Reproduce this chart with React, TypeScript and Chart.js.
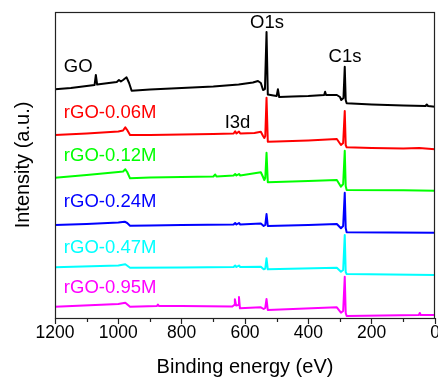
import React, { useEffect, useRef } from 'react';
import { Chart, registerables } from 'chart.js';

Chart.register(...registerables);

const FONT = '"Liberation Sans", Arial, Helvetica, sans-serif';

// x-axis ticks (binding energy, eV)
const tickValues = [0, 100, 200, 300, 400, 500, 600, 700, 800, 900, 1000, 1100, 1200];
const labeledTicks = [0, 200, 400, 600, 800, 1000, 1200];

// GO (black)
const goE = [1200, 1150, 1100, 1075, 1071, 1067, 1030, 1005, 998, 992, 985, 974, 966, 958, 900, 800, 700, 620, 575, 559, 550, 543, 537, 532, 528, 510, 500, 496, 492, 450, 400, 350, 347, 344, 310, 300, 296, 289, 285, 282, 279, 200, 100, 30, 26, 22, 0];
const goI = [228.7, 230, 232, 233, 243, 233.5, 235, 236, 238, 236.5, 238, 240.7, 235, 227.3, 228.5, 230, 231.5, 233.5, 235.5, 237, 235, 228, 229, 286, 223.5, 222.5, 222, 228.7, 221, 221.5, 222, 223, 226.3, 223, 223, 221, 218, 220, 251.3, 218, 214.7, 213.5, 212.5, 212, 213.5, 212, 211.3];

// rGO-0.06M (red)
const r006E = [1200, 1100, 1000, 985, 978, 972, 963, 900, 800, 700, 636, 631, 627, 619, 615, 570, 550, 543, 539, 536, 532, 528, 500, 400, 310, 297, 290, 285, 282, 279, 200, 100, 50, 0];
const r006I = [183, 184.5, 186.5, 187.5, 190.7, 188, 183, 183, 183.5, 184, 184.5, 186.7, 184.5, 186.5, 184.5, 185, 186.3, 182, 180, 182, 220.3, 176.3, 176.5, 177.5, 179, 173, 175, 207, 173, 170.7, 170, 169.5, 170, 168.7];

// rGO-0.12M (green)
const r012E = [1200, 1100, 1000, 985, 978, 972, 963, 900, 800, 700, 694, 690, 636, 631, 627, 619, 615, 550, 543, 539, 536, 532, 528, 400, 310, 297, 290, 285, 282, 279, 100, 0];
const r012I = [140.3, 143, 146, 146.5, 148.7, 146, 139.7, 140.5, 141, 141.5, 143.5, 141.5, 142.5, 144, 142.5, 144, 142.5, 145.7, 141, 138, 140, 165.3, 135.7, 137, 138, 131.3, 134, 167.3, 132, 128, 127.7, 127.3];

// rGO-0.24M (blue)
const r024E = [1200, 1100, 1000, 980, 972, 963, 900, 800, 636, 631, 627, 619, 615, 550, 541, 536, 532, 528, 400, 310, 297, 290, 285, 282, 279, 0];
const r024I = [93, 94, 95.5, 96.3, 95, 92.3, 92.5, 93, 93.5, 95, 93.5, 95, 93.5, 94.5, 92, 93, 104, 92, 93, 94, 89.7, 92, 125.3, 90, 85.7, 85.3];

// rGO-0.47M (cyan)
const r047E = [1200, 1000, 978, 963, 800, 636, 631, 627, 619, 615, 550, 541, 536, 532, 528, 310, 297, 290, 285, 282, 279, 0];
const r047I = [50.7, 52.5, 53.7, 50.3, 50.5, 51, 52.5, 51, 52.5, 51, 51.3, 48.7, 49.5, 59.7, 48.7, 50.3, 46.3, 48, 83, 46, 44, 43];

// rGO-0.95M (magenta)
const r095E = [1200, 1000, 978, 963, 878, 875, 872, 800, 640, 634, 632, 628, 621, 619, 616, 550, 541, 536, 532, 528, 310, 297, 290, 285, 282, 279, 51, 48, 45, 0];
const r095I = [11.3, 14, 15.3, 11.3, 12, 13.5, 12, 12, 11.5, 13, 18.7, 12.5, 13, 21, 9.7, 10.7, 9, 10, 19, 8, 10.7, 5.3, 7, 41.3, 5, 2, 3, 5, 3, 3];

const seriesNames = ['GO', 'rGO-0.06M', 'rGO-0.12M', 'rGO-0.24M', 'rGO-0.47M', 'rGO-0.95M'];
const seriesColors = ['#000000', '#ff0000', '#00ff00', '#0000ff', '#00ffff', '#ff00ff'];
const seriesE = [goE, r006E, r012E, r024E, r047E, r095E];
const seriesI = [goI, r006I, r012I, r024I, r047I, r095I];

// text annotations
const labelTexts = ['GO', 'rGO-0.06M', 'rGO-0.12M', 'rGO-0.24M', 'rGO-0.47M', 'rGO-0.95M', 'O1s', 'C1s', 'I3d'];
const labelE = [1172, 1172, 1172, 1172, 1172, 1172, 530.6, 284, 623.7];
const labelI = [251, 205.5, 162, 116.3, 70, 30, 295, 261.3, 195];
const labelColors = ['#000000', '#ff0000', '#00ff00', '#0000ff', '#00ffff', '#ff00ff', '#000000', '#000000', '#000000'];
const labelAlign = ['left', 'left', 'left', 'left', 'left', 'left', 'center', 'center', 'center'];

const framePlugin = {
  id: 'frameAndLabels',
  afterDatasetsDraw(chart: any) {
    const { ctx, scales } = chart;
    const xs = scales.x;
    const ys = scales.y;
    ctx.save();
    ctx.font = `18.5px ${FONT}`;
    ctx.textBaseline = 'middle';
    labelTexts.forEach((t, i) => {
      ctx.fillStyle = labelColors[i];
      ctx.textAlign = labelAlign[i] as CanvasTextAlign;
      ctx.fillText(t, xs.getPixelForValue(labelE[i]), ys.getPixelForValue(labelI[i]));
    });
    ctx.restore();
  },
  afterDraw(chart: any) {
    const { ctx, chartArea, scales } = chart;
    const xs = scales.x;
    ctx.save();
    ctx.strokeStyle = '#222';
    ctx.lineWidth = 1.2;
    const l = Math.round(chartArea.left) + 0.5;
    const r = Math.round(chartArea.right) - 0.5;
    const t = Math.round(chartArea.top) + 0.5;
    const b = Math.round(chartArea.bottom) + 0.5;
    ctx.strokeRect(l, t, r - l, b - t);
    ctx.beginPath();
    tickValues.forEach((v) => {
      if (labeledTicks.indexOf(v) >= 0) return;
      const px = Math.round(xs.getPixelForValue(v)) + 0.5;
      ctx.moveTo(px, b);
      ctx.lineTo(px, b + 3.5);
    });
    ctx.stroke();
    ctx.restore();
  },
};

export default function App() {
  const ref = useRef<HTMLCanvasElement>(null);
  useEffect(() => {
    if (!ref.current) return;
    const chart = new Chart(ref.current, {
      type: 'line',
      data: {
        datasets: seriesNames.map((name, i) => ({
          label: name,
          data: seriesE[i].map((e, j) => ({ x: e, y: seriesI[i][j] })),
          borderColor: seriesColors[i],
          backgroundColor: seriesColors[i],
          borderWidth: 2,
          pointRadius: 0,
          tension: 0,
          fill: false,
          borderJoinStyle: 'round',
          borderCapStyle: 'round',
        })),
      },
      options: {
        responsive: false,
        animation: false,
        devicePixelRatio: 1,
        layout: { padding: { left: 0, top: 12, right: 3, bottom: 0 } },
        plugins: { legend: { display: false }, tooltip: { enabled: false }, title: { display: false } },
        scales: {
          x: {
            type: 'linear',
            min: 0,
            max: 1200,
            reverse: true,
            afterBuildTicks: (s: any) => {
              s.ticks = tickValues.map((v) => ({ value: v }));
            },
            afterFit: (s: any) => {
              s.height = 61;
              s.paddingLeft = 0;
              s.paddingRight = 0;
            },
            ticks: {
              autoSkip: false,
              maxRotation: 0,
              minRotation: 0,
              padding: 0,
              color: '#000',
              font: { family: FONT, size: 17.5, lineHeight: 1 },
              callback: (v: any) => (labeledTicks.indexOf(Number(v)) >= 0 ? String(v) : ''),
            },
            grid: {
              drawOnChartArea: false,
              drawTicks: true,
              tickLength: 6,
              tickWidth: 1.2,
              tickColor: (c: any) => (c.tick && labeledTicks.indexOf(c.tick.value) >= 0 ? '#222' : 'rgba(0,0,0,0)'),
            },
            border: { display: false },
            title: {
              display: true,
              text: 'Binding energy (eV)',
              color: '#000',
              font: { family: FONT, size: 20, lineHeight: 1.2 },
              padding: { top: 0, bottom: 0 },
            },
          },
          y: {
            type: 'linear',
            min: 0,
            max: 306,
            afterFit: (s: any) => {
              s.width = 55;
              s.paddingTop = 0;
              s.paddingBottom = 0;
            },
            ticks: { display: false },
            grid: { display: false },
            border: { display: false },
            title: {
              display: true,
              text: 'Intensity (a.u.)',
              color: '#000',
              font: { family: FONT, size: 20, lineHeight: 1.2 },
              padding: { top: 11, bottom: 0 },
            },
          },
        },
      },
      plugins: [framePlugin],
    } as any);
    return () => chart.destroy();
  }, []);
  return (
    <div style={{ position: 'fixed', left: 0, top: 0, width: 438, height: 379, overflow: 'hidden', background: '#fff' }}>
      <canvas ref={ref} width={438} height={379} style={{ display: 'block', width: 438, height: 379 }} />
    </div>
  );
}
